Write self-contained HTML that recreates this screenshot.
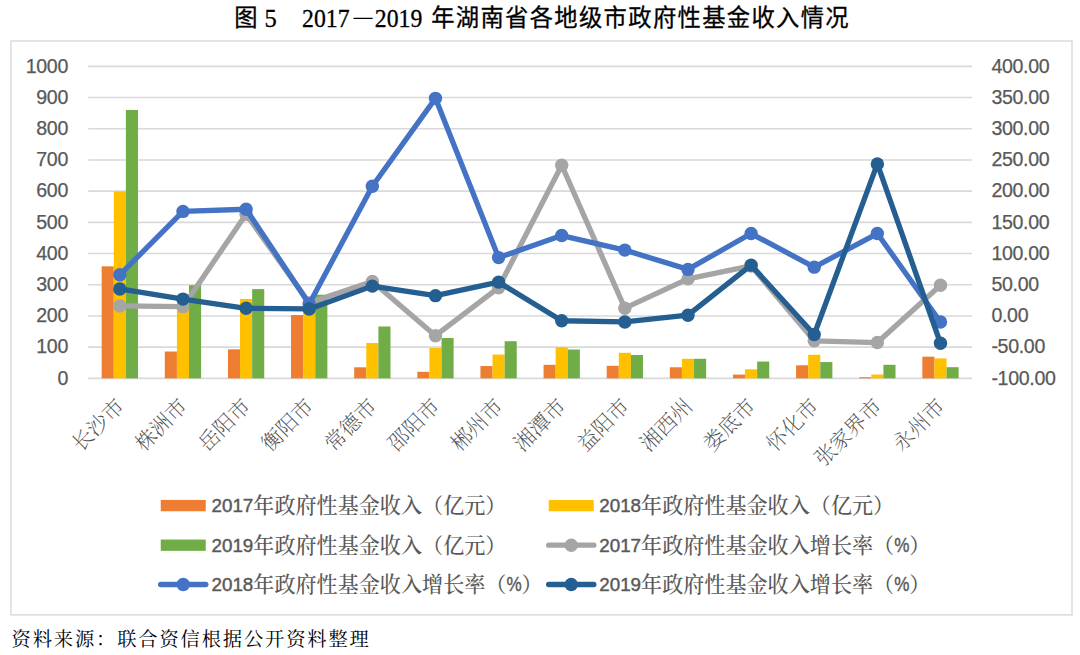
<!DOCTYPE html>
<html lang="zh-CN"><head><meta charset="utf-8"><title>图 5 2017－2019 年湖南省各地级市政府性基金收入情况</title>
<style>
html,body{margin:0;padding:0;background:#fff;}
body{width:1080px;height:655px;overflow:hidden;position:relative;}
svg{position:absolute;left:0;top:0;display:block;}
.num{font-family:"Liberation Sans","DejaVu Sans",sans-serif;fill:#595959;stroke:#595959;stroke-width:0.25px;letter-spacing:-0.32px;}
.cat{font-family:"Noto Serif CJK SC","Noto Sans CJK SC",serif;font-weight:200;fill:#505050;}
.leg{font-family:"Noto Serif CJK SC","Noto Sans CJK SC",serif;font-weight:500;fill:#595959;}
.leg .d{font-family:"Liberation Sans","DejaVu Sans",sans-serif;font-weight:400;font-size:18.8px;stroke:#595959;stroke-width:0.45px;}
.leg .p{font-family:"Liberation Sans","DejaVu Sans",sans-serif;font-weight:400;font-size:19.5px;stroke:#595959;stroke-width:0.4px;}
.ttl-c{font-family:"Noto Sans CJK SC","WenQuanYi Zen Hei",sans-serif;font-weight:400;fill:#000;stroke:#000;stroke-width:0.3px;}
.ttl-n{font-family:"Liberation Serif","DejaVu Serif",serif;fill:#000;stroke:#000;stroke-width:0.3px;}
.src{font-family:"Noto Serif CJK SC","Noto Sans CJK SC",serif;font-weight:400;fill:#000;}
</style></head><body>
<svg width="1080" height="655" viewBox="0 0 1080 655">
<rect x="0" y="0" width="1080" height="655" fill="#ffffff"/>
<g font-size="24.5">
<text class="ttl-c" x="234.2" y="26.3" font-size="23.3">图</text>
<text class="ttl-n" x="264.6" y="26.6">5</text>
<text class="ttl-n" x="302" y="26.6" textLength="47.5" lengthAdjust="spacingAndGlyphs">2017</text>
<text class="ttl-c" x="350.0" y="28.2" font-size="26" style="font-weight:300;stroke:none">－</text>
<text class="ttl-n" x="374.8" y="26.6" textLength="47.5" lengthAdjust="spacingAndGlyphs">2019</text>
<text class="ttl-c" x="431.2" y="26.3" font-size="23.3" textLength="417.4" lengthAdjust="spacing">年湖南省各地级市政府性基金收入情况</text>
</g>
<rect x="11.0" y="41.0" width="1061.0" height="573.9" fill="#fff" stroke="#D9D9D9" stroke-width="1.4"/>
<g stroke="#D9D9D9" stroke-width="1.6">
<line x1="88.27" y1="66.33" x2="972.05" y2="66.33"/>
<line x1="88.27" y1="97.53" x2="972.05" y2="97.53"/>
<line x1="88.27" y1="128.73" x2="972.05" y2="128.73"/>
<line x1="88.27" y1="159.94" x2="972.05" y2="159.94"/>
<line x1="88.27" y1="191.14" x2="972.05" y2="191.14"/>
<line x1="88.27" y1="222.34" x2="972.05" y2="222.34"/>
<line x1="88.27" y1="253.54" x2="972.05" y2="253.54"/>
<line x1="88.27" y1="284.74" x2="972.05" y2="284.74"/>
<line x1="88.27" y1="315.95" x2="972.05" y2="315.95"/>
<line x1="88.27" y1="347.15" x2="972.05" y2="347.15"/>
<line x1="88.27" y1="378.35" x2="972.05" y2="378.35"/>
</g>
<g fill="#ED7D31">
<rect x="101.68" y="266.33" width="12.10" height="112.02"/>
<rect x="164.81" y="351.52" width="12.10" height="26.83"/>
<rect x="227.94" y="349.33" width="12.10" height="29.02"/>
<rect x="291.06" y="315.01" width="12.10" height="63.34"/>
<rect x="354.19" y="367.30" width="12.10" height="11.05"/>
<rect x="417.32" y="371.80" width="12.10" height="6.55"/>
<rect x="480.45" y="366.06" width="12.10" height="12.29"/>
<rect x="543.57" y="364.81" width="12.10" height="13.54"/>
<rect x="606.70" y="365.81" width="12.10" height="12.54"/>
<rect x="669.83" y="367.30" width="12.10" height="11.05"/>
<rect x="732.96" y="374.57" width="12.10" height="3.78"/>
<rect x="796.08" y="365.31" width="12.10" height="13.04"/>
<rect x="859.21" y="377.23" width="12.10" height="1.12"/>
<rect x="922.34" y="356.66" width="12.10" height="21.69"/>
</g>
<g fill="#FFC000">
<rect x="113.78" y="191.45" width="12.10" height="186.90"/>
<rect x="176.91" y="309.08" width="12.10" height="69.27"/>
<rect x="240.04" y="298.94" width="12.10" height="79.41"/>
<rect x="303.16" y="305.96" width="12.10" height="72.39"/>
<rect x="366.29" y="343.03" width="12.10" height="35.32"/>
<rect x="429.42" y="348.02" width="12.10" height="30.33"/>
<rect x="492.55" y="354.54" width="12.10" height="23.81"/>
<rect x="555.67" y="347.27" width="12.10" height="31.08"/>
<rect x="618.80" y="352.80" width="12.10" height="25.55"/>
<rect x="681.93" y="358.79" width="12.10" height="19.56"/>
<rect x="745.06" y="369.30" width="12.10" height="9.05"/>
<rect x="808.18" y="354.79" width="12.10" height="23.56"/>
<rect x="871.31" y="374.57" width="12.10" height="3.78"/>
<rect x="934.44" y="358.41" width="12.10" height="19.94"/>
</g>
<g fill="#70AD47">
<rect x="125.88" y="110.01" width="12.10" height="268.34"/>
<rect x="189.01" y="285.21" width="12.10" height="93.14"/>
<rect x="252.14" y="289.11" width="12.10" height="89.24"/>
<rect x="315.26" y="294.73" width="12.10" height="83.62"/>
<rect x="378.39" y="326.49" width="12.10" height="51.86"/>
<rect x="441.52" y="338.01" width="12.10" height="40.34"/>
<rect x="504.65" y="341.25" width="12.10" height="37.10"/>
<rect x="567.77" y="349.52" width="12.10" height="28.83"/>
<rect x="630.90" y="355.04" width="12.10" height="23.31"/>
<rect x="694.03" y="358.79" width="12.10" height="19.56"/>
<rect x="757.15" y="361.56" width="12.10" height="16.79"/>
<rect x="820.28" y="362.06" width="12.10" height="16.29"/>
<rect x="883.41" y="364.81" width="12.10" height="13.54"/>
<rect x="946.54" y="367.18" width="12.10" height="11.17"/>
</g>
<polyline points="119.83,305.96 182.96,306.65 246.09,214.23 309.21,302.84 372.34,281.44 435.47,335.73 498.60,287.68 561.72,165.24 624.85,308.21 687.98,278.88 751.11,265.96 814.23,340.78 877.36,342.53 940.49,285.18" fill="none" stroke="#A5A5A5" stroke-width="5.3" stroke-linejoin="round" stroke-linecap="round"/>
<g fill="#A5A5A5">
<circle cx="119.83" cy="305.96" r="6.7"/>
<circle cx="182.96" cy="306.65" r="6.7"/>
<circle cx="246.09" cy="214.23" r="6.7"/>
<circle cx="309.21" cy="302.84" r="6.7"/>
<circle cx="372.34" cy="281.44" r="6.7"/>
<circle cx="435.47" cy="335.73" r="6.7"/>
<circle cx="498.60" cy="287.68" r="6.7"/>
<circle cx="561.72" cy="165.24" r="6.7"/>
<circle cx="624.85" cy="308.21" r="6.7"/>
<circle cx="687.98" cy="278.88" r="6.7"/>
<circle cx="751.11" cy="265.96" r="6.7"/>
<circle cx="814.23" cy="340.78" r="6.7"/>
<circle cx="877.36" cy="342.53" r="6.7"/>
<circle cx="940.49" cy="285.18" r="6.7"/>
</g>
<polyline points="119.83,274.76 182.96,211.42 246.09,209.24 309.21,303.96 372.34,186.24 435.47,98.34 498.60,257.60 561.72,235.57 624.85,250.11 687.98,269.39 751.11,233.57 814.23,267.15 877.36,233.57 940.49,321.94" fill="none" stroke="#4472C4" stroke-width="5.3" stroke-linejoin="round" stroke-linecap="round"/>
<g fill="#4472C4">
<circle cx="119.83" cy="274.76" r="6.7"/>
<circle cx="182.96" cy="211.42" r="6.7"/>
<circle cx="246.09" cy="209.24" r="6.7"/>
<circle cx="309.21" cy="303.96" r="6.7"/>
<circle cx="372.34" cy="186.24" r="6.7"/>
<circle cx="435.47" cy="98.34" r="6.7"/>
<circle cx="498.60" cy="257.60" r="6.7"/>
<circle cx="561.72" cy="235.57" r="6.7"/>
<circle cx="624.85" cy="250.11" r="6.7"/>
<circle cx="687.98" cy="269.39" r="6.7"/>
<circle cx="751.11" cy="233.57" r="6.7"/>
<circle cx="814.23" cy="267.15" r="6.7"/>
<circle cx="877.36" cy="233.57" r="6.7"/>
<circle cx="940.49" cy="321.94" r="6.7"/>
</g>
<polyline points="119.83,288.93 182.96,299.10 246.09,308.27 309.21,308.96 372.34,286.12 435.47,295.66 498.60,282.12 561.72,320.75 624.85,321.94 687.98,315.20 751.11,265.15 814.23,334.48 877.36,163.93 940.49,343.25" fill="none" stroke="#255E91" stroke-width="5.3" stroke-linejoin="round" stroke-linecap="round"/>
<g fill="#255E91">
<circle cx="119.83" cy="288.93" r="6.7"/>
<circle cx="182.96" cy="299.10" r="6.7"/>
<circle cx="246.09" cy="308.27" r="6.7"/>
<circle cx="309.21" cy="308.96" r="6.7"/>
<circle cx="372.34" cy="286.12" r="6.7"/>
<circle cx="435.47" cy="295.66" r="6.7"/>
<circle cx="498.60" cy="282.12" r="6.7"/>
<circle cx="561.72" cy="320.75" r="6.7"/>
<circle cx="624.85" cy="321.94" r="6.7"/>
<circle cx="687.98" cy="315.20" r="6.7"/>
<circle cx="751.11" cy="265.15" r="6.7"/>
<circle cx="814.23" cy="334.48" r="6.7"/>
<circle cx="877.36" cy="163.93" r="6.7"/>
<circle cx="940.49" cy="343.25" r="6.7"/>
</g>
<g class="num" font-size="19.6" text-anchor="end">
<text x="68.0" y="72.63">1000</text>
<text x="68.0" y="103.83">900</text>
<text x="68.0" y="135.03">800</text>
<text x="68.0" y="166.24">700</text>
<text x="68.0" y="197.44">600</text>
<text x="68.0" y="228.64">500</text>
<text x="68.0" y="259.84">400</text>
<text x="68.0" y="291.04">300</text>
<text x="68.0" y="322.25">200</text>
<text x="68.0" y="353.45">100</text>
<text x="68.0" y="384.65">0</text>
</g>
<g class="num" font-size="19.6" text-anchor="start">
<text x="991.4" y="72.63">400.00</text>
<text x="991.4" y="103.83">350.00</text>
<text x="991.4" y="135.03">300.00</text>
<text x="991.4" y="166.24">250.00</text>
<text x="991.4" y="197.44">200.00</text>
<text x="991.4" y="228.64">150.00</text>
<text x="991.4" y="259.84">100.00</text>
<text x="991.4" y="291.04">50.00</text>
<text x="991.4" y="322.25">0.00</text>
<text x="991.4" y="353.45">-50.00</text>
<text x="991.4" y="384.65">-100.00</text>
</g>
<g class="cat" font-size="21.1" text-anchor="end">
<text transform="translate(125.63 407.65) rotate(-45)" x="0" y="0">长沙市</text>
<text transform="translate(188.76 407.65) rotate(-45)" x="0" y="0">株洲市</text>
<text transform="translate(251.89 407.65) rotate(-45)" x="0" y="0">岳阳市</text>
<text transform="translate(315.01 407.65) rotate(-45)" x="0" y="0">衡阳市</text>
<text transform="translate(378.14 407.65) rotate(-45)" x="0" y="0">常德市</text>
<text transform="translate(441.27 407.65) rotate(-45)" x="0" y="0">邵阳市</text>
<text transform="translate(504.40 407.65) rotate(-45)" x="0" y="0">郴州市</text>
<text transform="translate(567.52 407.65) rotate(-45)" x="0" y="0">湘潭市</text>
<text transform="translate(630.65 407.65) rotate(-45)" x="0" y="0">益阳市</text>
<text transform="translate(693.78 407.65) rotate(-45)" x="0" y="0">湘西州</text>
<text transform="translate(756.90 407.65) rotate(-45)" x="0" y="0">娄底市</text>
<text transform="translate(820.03 407.65) rotate(-45)" x="0" y="0">怀化市</text>
<text transform="translate(883.16 407.65) rotate(-45)" x="0" y="0">张家界市</text>
<text transform="translate(946.29 407.65) rotate(-45)" x="0" y="0">永州市</text>
</g>
<rect x="160.75" y="499.95" width="45" height="11.3" fill="#ED7D31"/>
<text class="leg" font-size="21.1" x="211.50" y="512.40"><tspan class="d">2017</tspan><tspan dy="0.5">年政府性基金收入（亿元）</tspan></text>
<rect x="548.75" y="499.95" width="45" height="11.3" fill="#FFC000"/>
<text class="leg" font-size="21.1" x="599.25" y="512.40"><tspan class="d">2018</tspan><tspan dy="0.5">年政府性基金收入（亿元）</tspan></text>
<rect x="160.75" y="539.55" width="45" height="11.3" fill="#70AD47"/>
<text class="leg" font-size="21.1" x="211.50" y="552.00"><tspan class="d">2019</tspan><tspan dy="0.5">年政府性基金收入（亿元）</tspan></text>
<line x1="548.65" y1="545.20" x2="593.85" y2="545.20" stroke="#A5A5A5" stroke-width="5.3" stroke-linecap="round"/>
<circle cx="571.25" cy="545.20" r="6.7" fill="#A5A5A5"/>
<text class="leg" font-size="21.1" x="599.25" y="552.00"><tspan class="d">2017</tspan><tspan dy="0.5">年政府性基金收入增长率（</tspan><tspan class="p" dy="-0.5" textLength="15.2" lengthAdjust="spacingAndGlyphs">%</tspan><tspan dy="0.5">）</tspan></text>
<line x1="160.65" y1="584.50" x2="205.85" y2="584.50" stroke="#4472C4" stroke-width="5.3" stroke-linecap="round"/>
<circle cx="183.25" cy="584.50" r="6.7" fill="#4472C4"/>
<text class="leg" font-size="21.1" x="211.50" y="591.30"><tspan class="d">2018</tspan><tspan dy="0.5">年政府性基金收入增长率（</tspan><tspan class="p" dy="-0.5" textLength="15.2" lengthAdjust="spacingAndGlyphs">%</tspan><tspan dy="0.5">）</tspan></text>
<line x1="548.65" y1="584.50" x2="593.85" y2="584.50" stroke="#255E91" stroke-width="5.3" stroke-linecap="round"/>
<circle cx="571.25" cy="584.50" r="6.7" fill="#255E91"/>
<text class="leg" font-size="21.1" x="599.25" y="591.30"><tspan class="d">2019</tspan><tspan dy="0.5">年政府性基金收入增长率（</tspan><tspan class="p" dy="-0.5" textLength="15.2" lengthAdjust="spacingAndGlyphs">%</tspan><tspan dy="0.5">）</tspan></text>
<text class="src" font-size="19.3" x="11.6" y="645.9" textLength="357.2" lengthAdjust="spacing">资料来源：联合资信根据公开资料整理</text>
</svg>
</body></html>
